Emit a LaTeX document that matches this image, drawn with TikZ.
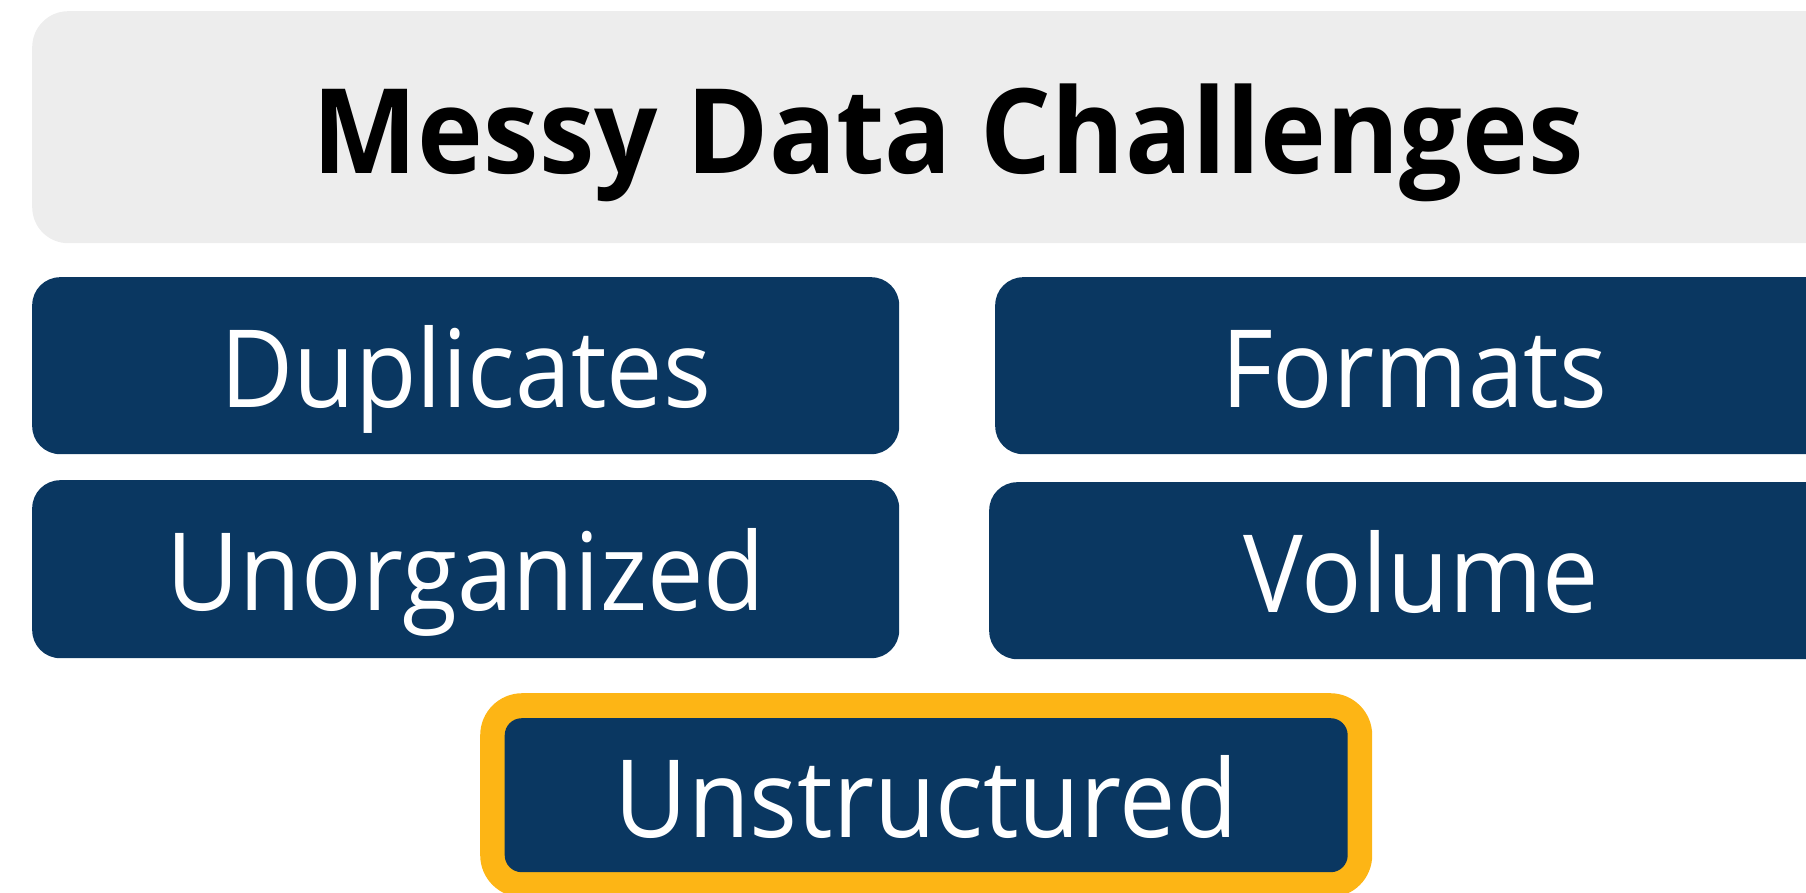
\documentclass[tikz,border=0pt]{standalone}
\usepackage{fontspec}
\setmainfont{Open Sans}
\newfontfamily\cardfont[FakeStretch=0.93]{Open Sans}
\newfontfamily\headfont[FakeStretch=0.944]{Open Sans Bold}
\definecolor{panelgrey}{HTML}{EDEDED}
\definecolor{navy}{HTML}{0A3761}
\definecolor{gold}{HTML}{FDB515}
\begin{document}
\begin{tikzpicture}[x=1pt,y=-1pt,
  card/.style={rounded corners=28pt, inner sep=0pt, anchor=north west,
    text height=83pt, text depth=0pt},
  item/.style={card, fill=navy, text=white, font=\cardfont\fontsize{108}{114}\selectfont},
  header/.style={card, rounded corners=36pt, fill=panelgrey, text=black,
    text height=92pt, font=\headfont\fontsize{118}{124}\selectfont}]
\useasboundingbox (0,0) rectangle (1806,893);
\clip (0,0) rectangle (1806,893);

% title panel
\node[header, minimum width=1832pt, minimum height=232pt] (title) at (32,11) {Messy Data Challenges};

% challenge cards
\node[item, minimum width=867pt, minimum height=177pt] (dup) at (32,277) {Duplicates};
\node[item, minimum width=838pt, minimum height=177pt] (fmt) at (995,277) {Formats};
\node[item, minimum width=867pt, minimum height=178pt] (org) at (32,480) {Unorganized};
\node[item, minimum width=864pt, minimum height=177pt] (vol) at (989,482) {Volume};

% highlighted card with gold frame
\node[card, rounded corners=42pt, fill=gold, minimum width=892pt, minimum height=204pt] (frame) at (480,693) {};
\node[item, rounded corners=17pt, anchor=center, text height=84pt,
  minimum width=843pt, minimum height=154pt] (uns) at (frame.center) {Unstructured};
\end{tikzpicture}
\end{document}
